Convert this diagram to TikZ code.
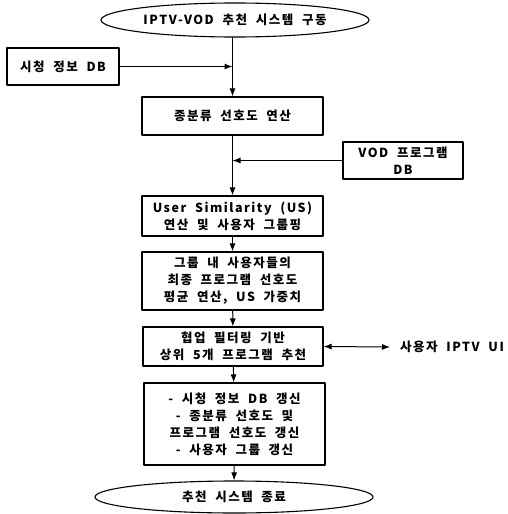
\documentclass[tikz,border=0pt]{standalone}
\usepackage{fontspec}
\setmainfont{Noto Sans CJK KR}[LetterSpace=12, WordSpace=2]
\usetikzlibrary{shapes.geometric,arrows.meta}

\begin{document}
\begin{tikzpicture}[x=1pt, y=-1pt, line cap=round, line join=round,
  font=\fontsize{12.5}{17}\selectfont\bfseries,
  >={Latex[length=8pt,width=6pt]},
  box/.style={draw, line width=1.1pt, rectangle, align=center, inner sep=0pt},
  term/.style={draw, line width=1.1pt, ellipse, inner sep=0pt},
  flow/.style={->, line width=1pt}]

% page frame
\useasboundingbox (0,0) rectangle (508,514);

% start
\node[term, minimum width=268, minimum height=34] (start) at (235,20) {IPTV-VOD 추천 시스템 구동};

% side data bases
\node[box, minimum width=112, minimum height=37] (viewdb) at (63,66.5) {시청 정보 DB};
\node[box, minimum width=120, minimum height=37] (voddb) at (403,160.5) {VOD 프로그램\\DB};

% main steps
\node[box, minimum width=181, minimum height=38] (genre) at (232.5,116) {종분류 선호도 연산};
\node[box, minimum width=181, minimum height=40] (usim) at (232.5,216) {User Similarity (US)\\연산 및 사용자 그룹핑};
\node[box, minimum width=181, minimum height=58] (group) at (232.5,281) {그룹 내 사용자들의\\최종 프로그램 선호도\\평균 연산, US 가중치};
\node[box, minimum width=180, minimum height=39] (collab) at (233,346.5) {협업 필터링 기반\\상위 5개 프로그램 추천};
\node[box, minimum width=181, minimum height=82] (update) at (234.5,424) {- 시청 정보 DB 갱신\\- 종분류 선호도 및\\프로그램 선호도 갱신\\- 사용자 그룹 갱신};

% end
\node[term, minimum width=278, minimum height=32] (end) at (234,497) {추천 시스템 종료};

% user interface
\node[anchor=west, inner sep=0pt] (ui) at (400,347) {사용자 IPTV UI};

% junctions on the main line
\coordinate (j1) at (viewdb.east -| genre.north);
\coordinate (j2) at (voddb.west -| usim.north);

% connectors
\draw[line width=1pt] (start.south -| genre.north) -- (j1);
\draw[flow] (j1) -- (genre.north);
\draw[flow] (viewdb.east) -- (j1);
\draw[line width=1pt] (genre.south) -- (j2);
\draw[flow] (j2) -- (usim.north);
\draw[flow] (voddb.west) -- (j2);
\draw[flow] (usim) -- (group);
\draw[flow] (group) -- (collab);
\draw[flow] (collab) -- (update);
\draw[flow] (update) -- (end);
\draw[<->, line width=1pt] (collab.east) -- ([xshift=-10pt]ui.west);

\end{tikzpicture}
\end{document}
